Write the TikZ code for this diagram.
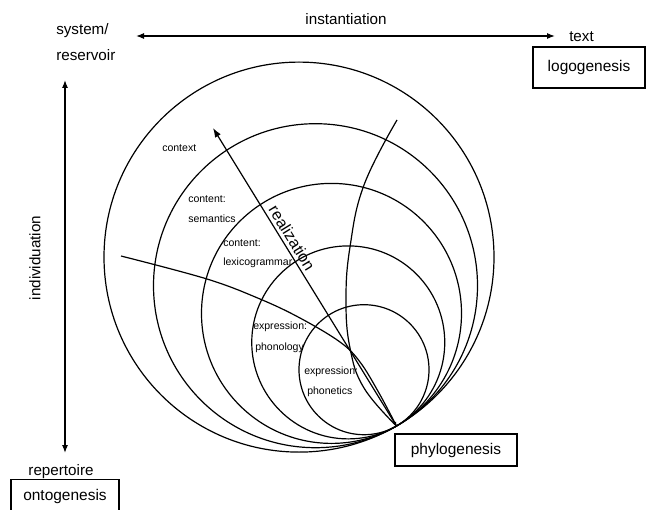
\documentclass[tikz,border=0pt]{standalone}
\usepackage{fontspec}
\setmainfont{Liberation Sans}
\usetikzlibrary{arrows.meta}
\begin{document}
\begin{tikzpicture}[x=0.75pt,y=-0.75pt,
  biglab/.style={font=\fontsize{11.4}{13}\selectfont, inner sep=0pt},
  smalllab/.style={font=\fontsize{7.9}{9.5}\selectfont, inner sep=0pt, anchor=west},
  genbox/.style={draw, line width=0.8pt, font=\fontsize{11.6}{14}\selectfont, inner sep=0pt},
  ring/.style={line width=0.9pt},
  axis/.style={line width=0.85pt}
]
\clip (0,0) rectangle (646,510);
\useasboundingbox (0,0) rectangle (646,510);

% tangent point and circle centres
\coordinate (T) at (396.5,426);
\draw[ring] (299,257.1) circle[radius=146.25pt];
\draw[ring] (315.5,285.7) circle[radius=121.5pt];
\draw[ring] (331.5,313.4) circle[radius=97.5pt];
\draw[ring] (348.25,342.4) circle[radius=72.375pt];
\draw[ring] (364,369.7) circle[radius=48.75pt];

% curved clines
\draw[ring] plot[smooth, tension=0.7] coordinates {(397,120) (364,185) (350,247) (346,300) (350,348) (364,388) (396.5,426)};
\draw[ring] plot[smooth, tension=0.6] coordinates {(121,256) (207,279) (260,299) (300,318) (340,342) (360,362) (379,393) (396.5,426)};

% realization arrow
\coordinate (R) at (213,128);
\draw[ring, {Latex[length=3pt,width=3pt]}-{Latex[length=7pt,width=5pt]}] (T) -- (R);
\node[font=\fontsize{12}{14}\selectfont, inner sep=0pt, rotate=-58.4] (realiz) at (292,238) {realization};

% axes
\node[biglab, anchor=west] (sys) at (56,31) {system/};
\node[biglab, anchor=west] (res) at (56,55) {reservoir};
\node[biglab] (inst) at (346,19) {instantiation};
\node[biglab, anchor=west] (txt) at (569,37) {text};
\coordinate (iL) at (136,36);
\coordinate (iR) at (555,36);
\draw[axis, {Latex[length=6pt,width=4.5pt]}-{Latex[length=6pt,width=4.5pt]}] (iL) -- (iR);

\coordinate (vT) at (65,80);
\coordinate (vB) at (65,453);
\draw[axis, {Latex[length=6pt,width=4.5pt]}-{Latex[length=6pt,width=4.5pt]}] (vT) -- (vB);
\node[biglab, rotate=90] (indiv) at (35,258) {individuation};
\node[biglab] (rep) at (61,472) {repertoire};

% boxes
\node[genbox, minimum width=84pt, minimum height=30.75pt] (logo) at (589,67.5) {logogenesis};
\node[genbox, minimum width=91.5pt, minimum height=24pt] (phylo) at (456,450) {phylogenesis};
\node[genbox, minimum width=81pt, minimum height=25pt] (onto) at (65,496) {ontogenesis};

% stratum labels
\node[smalllab] (c1) at (162,148) {context};
\node[smalllab] (c2a) at (188,199) {content:};
\node[smalllab] (c2b) at (188,219) {semantics};
\node[smalllab] (c3a) at (223,243) {content:};
\node[smalllab] (c3b) at (223,263) {lexicogrammar};
\node[smalllab] (c4a) at (253,327) {expression:};
\node[smalllab] (c4b) at (255,348) {phonology};
\node[smalllab] (c5a) at (304,372) {expression:};
\node[smalllab] (c5b) at (307,392) {phonetics};
\end{tikzpicture}
\end{document}
